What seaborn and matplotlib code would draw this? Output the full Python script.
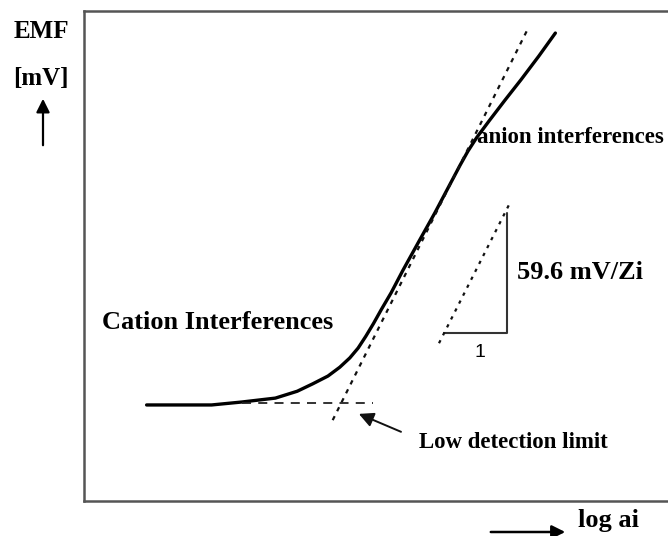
import matplotlib
matplotlib.use("Agg")
import matplotlib.pyplot as plt
import pandas as pd
import seaborn as sns

# response curve (arbitrary log ai / EMF units)
log_ai = [1.06, 1.64, 2.16, 2.67, 3.24, 3.61, 3.87, 4.13, 4.33, 4.50,
          4.64, 4.77, 4.90, 5.03, 5.20, 5.40, 5.68, 5.94, 6.19, 6.37,
          6.50, 6.65, 6.86, 7.12, 7.40, 7.70, 7.98]
emf = [1.96, 1.96, 1.96, 2.02, 2.10, 2.24, 2.39, 2.55, 2.73, 2.92,
       3.12, 3.36, 3.62, 3.90, 4.25, 4.71, 5.32, 5.88, 6.45, 6.86,
       7.14, 7.42, 7.76, 8.17, 8.60, 9.08, 9.55]

# Nernstian tangent and the flat baseline
tangent_x = [4.21, 7.52]
tangent_y = [1.65, 9.65]
base_x = [2.67, 4.90]
base_y = [2.0, 2.0]

# slope triangle
tri_x = [6.10, 7.16, 7.16]
tri_y = [3.43, 3.43, 5.88]
hyp_x = [6.01, 7.21]
hyp_y = [3.22, 6.08]

sns.set_style("white")
plt.rcParams["font.family"] = ["Liberation Serif", "DejaVu Serif"]
plt.rcParams["text.color"] = "black"

fig = plt.figure(figsize=(6.68, 5.36), dpi=100)
ax = fig.add_axes([84 / 668, 35 / 536, 1 - 84 / 668 + 0.01, 490 / 536])

curve = pd.DataFrame({"log_ai": log_ai, "emf": emf})
sns.lineplot(data=curve, x="log_ai", y="emf", ax=ax, color="black",
             linewidth=2.4, sort=False, estimator=None,
             solid_joinstyle="round", solid_capstyle="round")
ax.plot(tangent_x, tangent_y, color="#111111", lw=1.6, ls=(0, (2, 2.5)))
ax.plot(base_x, base_y, color="#222222", lw=1.3, ls=(0, (5, 4)))
ax.plot(tri_x, tri_y, color="#333333", lw=1.5)
ax.plot(hyp_x, hyp_y, color="#111111", lw=1.6, ls=(0, (1.5, 2.5)))

ax.text(7.33, 4.67, "59.6 mV/Zi", fontsize=19, fontweight="bold", va="center")
ax.text(6.70, 3.04, "1", fontsize=14, family="Liberation Sans",
        ha="center", va="center")
ax.text(0.31, 3.65, "Cation Interferences", fontsize=19,
        fontweight="bold", va="center")
ax.text(6.66, 7.41, "anion interferences", fontsize=16.5,
        fontweight="bold", va="center")
ax.text(5.67, 1.20, "Low detection limit", fontsize=16.5,
        fontweight="bold", va="center")
ax.annotate("", xy=(4.61, 1.80), xytext=(5.41, 1.39),
            arrowprops=dict(arrowstyle="-|>", color="#111111", lw=1.4,
                            mutation_scale=22))

ax.set_xlim(0, 10)
ax.set_ylim(0, 10)
ax.set_xticks([])
ax.set_yticks([])
ax.set_xlabel("")
ax.set_ylabel("")
for side in ["left", "top", "bottom"]:
    ax.spines[side].set_color("#555555")
    ax.spines[side].set_linewidth(1.8)
ax.spines["right"].set_visible(False)

# axis captions outside the frame
fig.text(41 / 668, 1 - 32 / 536, "EMF", fontsize=18, fontweight="bold",
         ha="center", va="center")
fig.text(41 / 668, 1 - 78 / 536, "[mV]", fontsize=18, fontweight="bold",
         ha="center", va="center")
fig.text(578 / 668, 1 - 521 / 536, "log ai", fontsize=19, fontweight="bold",
         ha="left", va="center")
fig.add_artist(matplotlib.patches.FancyArrowPatch(
    (43 / 668, 1 - 148 / 536), (43 / 668, 1 - 96 / 536),
    transform=fig.transFigure, arrowstyle="-|>", mutation_scale=20,
    color="black", lw=1.6))
fig.add_artist(matplotlib.patches.FancyArrowPatch(
    (488 / 668, 1 - 532 / 536), (568 / 668, 1 - 532 / 536),
    transform=fig.transFigure, arrowstyle="-|>", mutation_scale=20,
    color="black", lw=1.8))

fig.savefig("out.png", dpi=100)
